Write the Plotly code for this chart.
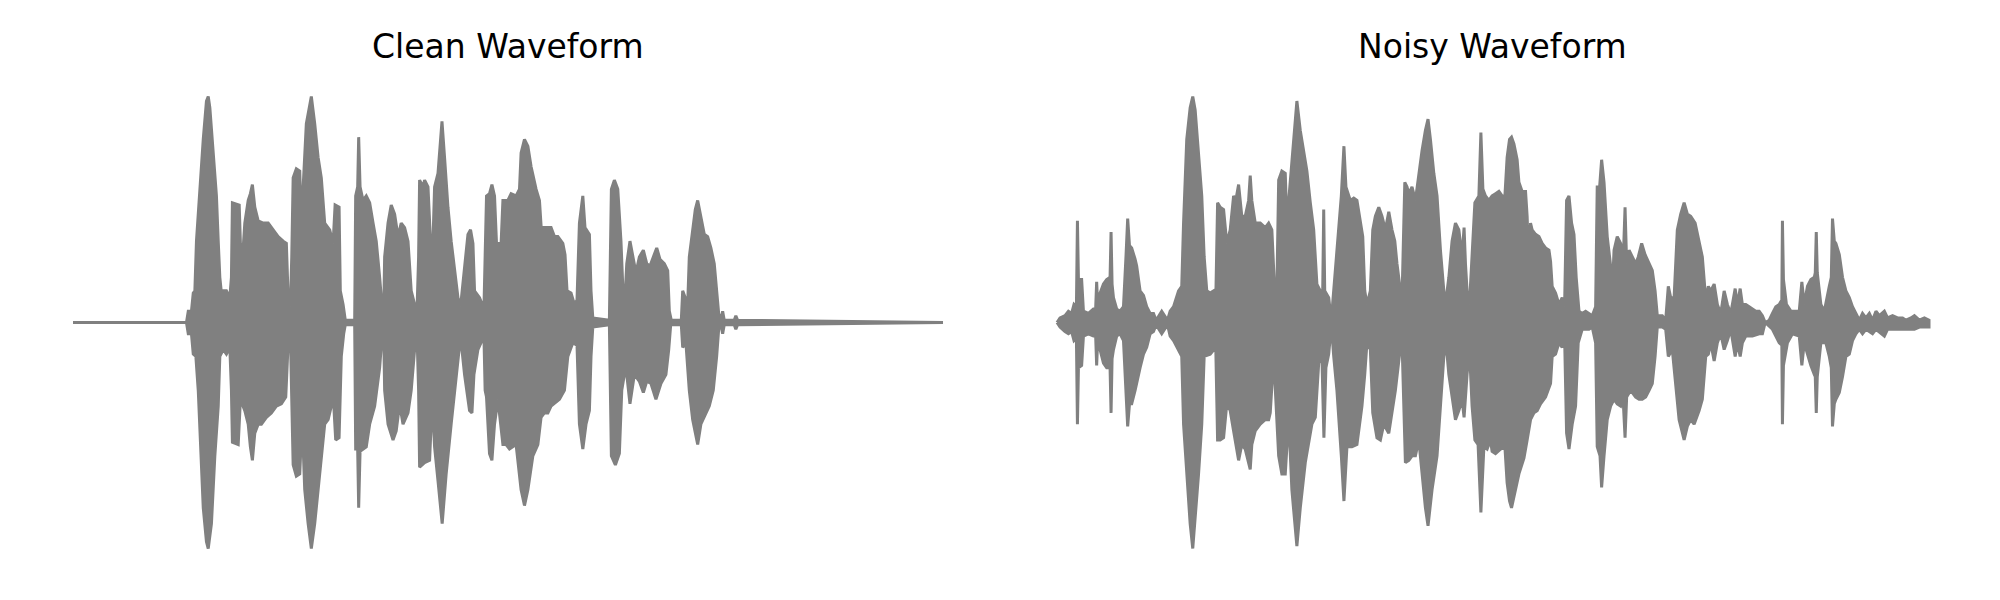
import plotly.graph_objects as go

# ---------------- data: waveform envelopes ----------------
# time in seconds, amplitude normalised to [-1, 1]
clean_upper_t = [0.0, 0.568, 0.577, 0.593, 0.602, 0.61, 0.618, 0.635, 0.652, 0.668, 0.677, 0.685, 0.702, 0.718, 0.727, 0.735, 0.743, 0.752, 0.768, 0.785,
                 0.793, 0.798, 0.832, 0.838, 0.852, 0.86, 0.877, 0.888, 0.898, 0.91, 0.927, 0.952, 0.977, 1.002, 1.027, 1.052, 1.068, 1.077, 1.088, 1.095,
                 1.102, 1.118, 1.135, 1.143, 1.152, 1.168, 1.193, 1.21, 1.227, 1.243, 1.26, 1.285, 1.302, 1.312, 1.332, 1.338, 1.352, 1.363, 1.41, 1.415,
                 1.425, 1.43, 1.437, 1.452, 1.468, 1.485, 1.502, 1.518, 1.535, 1.547, 1.555,
                 1.56, 1.577, 1.593, 1.61, 1.627, 1.643, 1.66, 1.677, 1.693, 1.71, 1.722, 1.73, 1.735, 1.752, 1.76, 1.777, 1.79, 1.802, 1.81, 1.827,
                 1.847, 1.86, 1.877, 1.893, 1.91, 1.927, 1.94, 1.96, 1.977, 1.99, 2.002, 2.01, 2.035, 2.057, 2.063, 2.07, 2.085, 2.097, 2.11, 2.12,
                 2.143, 2.152, 2.177, 2.193, 2.218, 2.235, 2.243, 2.26, 2.277, 2.293, 2.318, 2.335, 2.348, 2.357, 2.377, 2.393, 2.41, 2.427, 2.452, 2.463,
                 2.473, 2.493, 2.51, 2.523, 2.535, 2.552, 2.563,
                 2.585, 2.593, 2.602, 2.685, 2.69, 2.695, 2.71, 2.727, 2.743, 2.752, 2.765, 2.772, 2.788, 2.802, 2.818, 2.835, 2.855, 2.872, 2.888, 2.905,
                 2.922, 2.938, 2.96, 2.977, 2.985, 2.995, 3.045, 3.052, 3.063, 3.077, 3.085, 3.102, 3.115, 3.127, 3.143, 3.16, 3.177, 3.193, 3.21, 3.222,
                 3.232, 3.243, 3.252, 3.26, 3.31, 3.318, 3.327, 4.355]
clean_upper_a = [0.0, 0.0, 0.05, 0.05, 0.13, 0.14, 0.36, 0.59, 0.81, 0.98, 1.0, 0.95, 0.73, 0.56, 0.36, 0.2, 0.13, 0.14, 0.14, 0.11,
                 0.2, 0.53, 0.52, 0.35, 0.33, 0.44, 0.54, 0.57, 0.61, 0.51, 0.45, 0.44, 0.44, 0.41, 0.38, 0.36, 0.35, 0.11, 0.07, 0.29,
                 0.64, 0.68, 0.67, 0.44, 0.59, 0.88, 1.0, 0.88, 0.73, 0.64, 0.44, 0.41, 0.35, 0.52, 0.51, 0.14, 0.08, 0.01, 0.01, 0.56,
                 0.6, 0.82, 0.6, 0.54, 0.56, 0.53, 0.44, 0.36, 0.2, 0.07, 0.03,
                 0.29, 0.44, 0.52, 0.48, 0.38, 0.44, 0.42, 0.36, 0.14, 0.08, 0.05, 0.29, 0.63, 0.6, 0.63, 0.6, 0.35, 0.36, 0.6, 0.66,
                 0.89, 0.73, 0.51, 0.36, 0.23, 0.11, 0.07, 0.26, 0.39, 0.41, 0.35, 0.14, 0.11, 0.06, 0.3, 0.56, 0.57, 0.61, 0.56, 0.35,
                 0.35, 0.54, 0.54, 0.57, 0.56, 0.59, 0.75, 0.81, 0.78, 0.69, 0.59, 0.54, 0.36, 0.42, 0.42, 0.42, 0.38, 0.38, 0.35, 0.3,
                 0.14, 0.13, 0.08, 0.1, 0.44, 0.56, 0.42,
                 0.39, 0.14, 0.02, 0.01, 0.3, 0.59, 0.63, 0.59, 0.36, 0.16, 0.14, 0.26, 0.36, 0.29, 0.22, 0.29, 0.32, 0.26, 0.25, 0.29,
                 0.33, 0.28, 0.26, 0.23, 0.05, 0.01, 0.01, 0.14, 0.11, 0.08, 0.29, 0.41, 0.5, 0.54, 0.47, 0.39, 0.38, 0.33, 0.26, 0.14,
                 0.04, 0.01, 0.05, 0.01, 0.01, 0.03, 0.01, 0.0]

clean_lower_t = [0.0, 0.568, 0.577, 0.593, 0.602, 0.615, 0.627, 0.635, 0.652, 0.668, 0.677, 0.693, 0.71, 0.727, 0.735, 0.752, 0.768, 0.785, 0.793, 0.798,
                 0.827, 0.838, 0.86, 0.877, 0.888, 0.898, 0.91, 0.927, 0.943, 0.968, 0.993, 1.018, 1.043, 1.065, 1.077, 1.088, 1.095, 1.102, 1.118, 1.135,
                 1.147, 1.16, 1.177, 1.193, 1.21, 1.235, 1.26, 1.277, 1.293, 1.305, 1.315, 1.332, 1.343, 1.355, 1.363, 1.41, 1.415, 1.425, 1.43, 1.437,
                 1.452, 1.468, 1.485, 1.51, 1.535, 1.547, 1.555,
                 1.56, 1.577, 1.602, 1.618, 1.635, 1.652, 1.677, 1.693, 1.71, 1.722, 1.73, 1.735, 1.76, 1.785, 1.798, 1.81, 1.827, 1.848, 1.868, 1.893,
                 1.918, 1.94, 1.96, 1.985, 1.997, 2.007, 2.027, 2.057, 2.063, 2.07, 2.085, 2.097, 2.11, 2.127, 2.152, 2.168, 2.185, 2.218, 2.243, 2.26,
                 2.277, 2.302, 2.327, 2.343, 2.36, 2.377, 2.393, 2.41, 2.435, 2.46, 2.477, 2.502, 2.523, 2.535, 2.552, 2.568,
                 2.585, 2.593, 2.602, 2.685, 2.69, 2.695, 2.715, 2.735, 2.747, 2.76, 2.772, 2.788, 2.81, 2.835, 2.855, 2.872, 2.893, 2.918, 2.943, 2.968,
                 2.982, 2.992, 3.045, 3.052, 3.068, 3.085, 3.102, 3.115, 3.127, 3.143, 3.16, 3.185, 3.205, 3.222, 3.232, 3.243, 3.252, 3.26, 3.31, 3.318,
                 3.327, 4.355]
clean_lower_a = [0.0, 0.0, -0.05, -0.05, -0.14, -0.15, -0.3, -0.45, -0.82, -0.97, -1.0, -0.89, -0.59, -0.37, -0.15, -0.12, -0.14, -0.11, -0.3, -0.53,
                 -0.54, -0.34, -0.39, -0.45, -0.55, -0.61, -0.49, -0.45, -0.45, -0.42, -0.4, -0.37, -0.36, -0.33, -0.09, -0.05, -0.3, -0.63, -0.68, -0.67,
                 -0.43, -0.74, -0.89, -1.0, -0.89, -0.67, -0.45, -0.43, -0.37, -0.36, -0.52, -0.51, -0.15, -0.05, -0.01, -0.01, -0.56, -0.56, -0.82, -0.57,
                 -0.56, -0.55, -0.45, -0.37, -0.2, -0.06, -0.03,
                 -0.3, -0.45, -0.52, -0.48, -0.36, -0.45, -0.4, -0.3, -0.12, -0.05, -0.3, -0.64, -0.62, -0.61, -0.34, -0.55, -0.7, -0.89, -0.67, -0.45,
                 -0.23, -0.06, -0.23, -0.39, -0.4, -0.23, -0.12, -0.06, -0.3, -0.33, -0.58, -0.61, -0.45, -0.34, -0.54, -0.54, -0.56, -0.54, -0.74, -0.81,
                 -0.74, -0.59, -0.54, -0.42, -0.4, -0.4, -0.37, -0.36, -0.34, -0.3, -0.15, -0.09, -0.1, -0.45, -0.56, -0.45,
                 -0.39, -0.15, -0.02, -0.01, -0.3, -0.59, -0.63, -0.58, -0.3, -0.23, -0.23, -0.36, -0.23, -0.26, -0.31, -0.26, -0.27, -0.34, -0.27, -0.23,
                 -0.12, -0.01, -0.01, -0.11, -0.09, -0.3, -0.43, -0.49, -0.54, -0.45, -0.42, -0.37, -0.3, -0.15, -0.03, -0.01, -0.05, -0.01, -0.01, -0.03,
                 -0.01, 0.0]

noisy_upper_t = [0.0, 0.015, 0.04, 0.057, 0.073, 0.085, 0.097, 0.102, 0.107, 0.123, 0.132, 0.157, 0.182, 0.193, 0.198, 0.203, 0.215, 0.232, 0.248, 0.265,
                 0.27, 0.275, 0.282, 0.298, 0.315, 0.332, 0.345, 0.353, 0.362, 0.373, 0.39, 0.398, 0.415, 0.432, 0.448, 0.465, 0.482, 0.495, 0.523, 0.552,
                 0.565, 0.582, 0.607, 0.623, 0.632, 0.648, 0.665, 0.678, 0.69, 0.707, 0.723, 0.735, 0.748, 0.765, 0.782, 0.793, 0.802, 0.815, 0.832, 0.848,
                 0.865, 0.882, 0.893, 0.907, 0.923, 0.94, 0.957, 0.965, 0.973, 0.99, 1.015, 1.04, 1.057,
                 1.073, 1.087, 1.098, 1.107, 1.123, 1.14, 1.148, 1.165, 1.182, 1.198, 1.215, 1.232, 1.248, 1.265, 1.282, 1.298, 1.315, 1.327, 1.332, 1.337,
                 1.357, 1.37, 1.382, 1.398, 1.42, 1.433, 1.443, 1.465, 1.482, 1.498, 1.515, 1.527, 1.537, 1.548, 1.565, 1.577, 1.59, 1.607, 1.623, 1.64,
                 1.657, 1.673, 1.687, 1.698, 1.715, 1.723, 1.737, 1.748, 1.757, 1.773, 1.79, 1.807, 1.823, 1.84, 1.853, 1.865, 1.882, 1.898, 1.915, 1.932,
                 1.94, 1.957, 1.973, 1.99, 2.007, 2.023, 2.033, 2.04, 2.048, 2.06, 2.073, 2.087, 2.107, 2.117, 2.127, 2.14, 2.157,
                 2.173, 2.19, 2.207, 2.223, 2.237, 2.248, 2.26, 2.27, 2.282, 2.298, 2.307, 2.323, 2.34, 2.348, 2.357, 2.365, 2.373, 2.39, 2.407, 2.423,
                 2.44, 2.457, 2.465, 2.473, 2.49, 2.507, 2.523, 2.535, 2.545, 2.557, 2.57, 2.582, 2.593, 2.607, 2.623, 2.64, 2.657, 2.673, 2.69, 2.698,
                 2.71, 2.72, 2.732, 2.748, 2.765, 2.773, 2.782, 2.798, 2.815, 2.827, 2.837, 2.845, 2.857, 2.873, 2.89, 2.903, 2.92, 2.937, 2.957, 2.973,
                 2.987, 2.998, 3.023, 3.04, 3.053, 3.065, 3.082, 3.098, 3.115, 3.132, 3.148, 3.165, 3.187, 3.207, 3.223, 3.24, 3.253, 3.265,
                 3.282, 3.298, 3.315, 3.332, 3.348, 3.365, 3.387, 3.398, 3.412, 3.423, 3.44, 3.457, 3.473, 3.49, 3.507, 3.523, 3.537, 3.557, 3.573, 3.59,
                 3.607, 3.62, 3.623, 3.628, 3.643, 3.665, 3.69, 3.707, 3.72, 3.732, 3.748, 3.765, 3.782, 3.787, 3.792, 3.797, 3.815, 3.832, 3.857, 3.867,
                 3.873, 3.882, 3.89, 3.907, 3.923, 3.94, 3.957, 3.973, 3.99, 4.007, 4.023, 4.04, 4.057, 4.073, 4.09, 4.107, 4.132, 4.148, 4.173, 4.198,
                 4.223, 4.24, 4.265, 4.282, 4.307, 4.332, 4.355]
noisy_upper_a = [0.0, 0.02, 0.03, 0.05, 0.04, 0.08, 0.07, 0.45, 0.19, 0.19, 0.05, 0.04, 0.06, 0.06, 0.18, 0.08, 0.13, 0.17, 0.19, 0.2,
                 0.4, 0.17, 0.11, 0.06, 0.05, 0.07, 0.3, 0.46, 0.34, 0.33, 0.28, 0.25, 0.14, 0.12, 0.07, 0.04, 0.04, 0.01, 0.05, 0.01,
                 0.05, 0.07, 0.14, 0.16, 0.44, 0.81, 0.95, 1.0, 0.94, 0.73, 0.56, 0.29, 0.14, 0.13, 0.14, 0.1, 0.53, 0.51, 0.5, 0.35,
                 0.41, 0.56, 0.54, 0.61, 0.47, 0.47, 0.54, 0.65, 0.54, 0.44, 0.44, 0.42, 0.44,
                 0.41, 0.14, 0.14, 0.63, 0.67, 0.66, 0.44, 0.62, 0.81, 0.98, 0.85, 0.76, 0.67, 0.53, 0.41, 0.17, 0.14, 0.14, 0.5, 0.14,
                 0.11, 0.01, 0.14, 0.29, 0.56, 0.78, 0.6, 0.54, 0.55, 0.54, 0.44, 0.38, 0.14, 0.08, 0.14, 0.41, 0.47, 0.51, 0.47, 0.41,
                 0.49, 0.41, 0.36, 0.26, 0.14, 0.1, 0.62, 0.6, 0.57, 0.6, 0.54, 0.66, 0.76, 0.85, 0.9, 0.81, 0.66, 0.56, 0.32, 0.14,
                 0.08, 0.2, 0.36, 0.44, 0.41, 0.29, 0.42, 0.26, 0.14, 0.08, 0.29, 0.53, 0.56, 0.84, 0.59, 0.56, 0.54,
                 0.56, 0.57, 0.58, 0.56, 0.56, 0.73, 0.81, 0.82, 0.79, 0.72, 0.62, 0.58, 0.58, 0.47, 0.23, 0.44, 0.41, 0.39, 0.38, 0.35,
                 0.33, 0.32, 0.27, 0.16, 0.13, 0.08, 0.11, 0.07, 0.54, 0.56, 0.44, 0.39, 0.2, 0.05, 0.04, 0.05, 0.04, 0.03, 0.07, 0.6,
                 0.6, 0.72, 0.62, 0.38, 0.25, 0.13, 0.32, 0.38, 0.35, 0.25, 0.51, 0.26, 0.32, 0.29, 0.26, 0.29, 0.35, 0.3, 0.26, 0.23,
                 0.14, 0.03, 0.03, 0.01, 0.16, 0.11, 0.11, 0.41, 0.48, 0.53, 0.48, 0.47, 0.44, 0.36, 0.29, 0.1, 0.16, 0.14,
                 0.17, 0.08, 0.04, 0.14, 0.08, 0.04, 0.15, 0.08, 0.15, 0.08, 0.08, 0.07, 0.06, 0.05, 0.05, 0.03, 0.0, 0.01, 0.04, 0.07,
                 0.08, 0.1, 0.45, 0.19, 0.08, 0.05, 0.05, 0.05, 0.18, 0.08, 0.16, 0.19, 0.2, 0.22, 0.4, 0.22, 0.08, 0.05, 0.16, 0.2,
                 0.46, 0.36, 0.35, 0.3, 0.2, 0.14, 0.11, 0.07, 0.04, 0.01, 0.04, 0.02, 0.04, 0.01, 0.05, 0.03, 0.05, 0.02, 0.03, 0.02,
                 0.02, 0.01, 0.02, 0.03, 0.01, 0.02, 0.01]

noisy_lower_t = [0.0, 0.015, 0.04, 0.057, 0.073, 0.085, 0.097, 0.102, 0.107, 0.123, 0.132, 0.157, 0.182, 0.193, 0.198, 0.203, 0.215, 0.232, 0.248, 0.265,
                 0.27, 0.275, 0.282, 0.298, 0.315, 0.332, 0.345, 0.353, 0.362, 0.373, 0.39, 0.398, 0.415, 0.432, 0.448, 0.465, 0.482, 0.495, 0.523, 0.552,
                 0.565, 0.582, 0.607, 0.623, 0.632, 0.648, 0.665, 0.678, 0.69, 0.707, 0.723, 0.735, 0.765, 0.793, 0.802, 0.815, 0.832, 0.848, 0.865, 0.882,
                 0.907, 0.923, 0.94, 0.965, 0.973, 0.99, 1.015, 1.04, 1.057,
                 1.065, 1.082, 1.098, 1.107, 1.123, 1.14, 1.157, 1.173, 1.198, 1.215, 1.24, 1.273, 1.29, 1.307, 1.323, 1.333, 1.343, 1.357, 1.37, 1.382,
                 1.398, 1.42, 1.433, 1.448, 1.473, 1.498, 1.523, 1.537, 1.548, 1.565, 1.577, 1.598, 1.615, 1.632, 1.657, 1.673, 1.69, 1.715, 1.723, 1.74,
                 1.757, 1.773, 1.79, 1.807, 1.823, 1.84, 1.853, 1.873, 1.898, 1.915, 1.932, 1.943, 1.957, 1.973, 1.99, 2.007, 2.023, 2.033, 2.048, 2.06,
                 2.073, 2.087, 2.103, 2.117, 2.132, 2.148, 2.165,
                 2.173, 2.19, 2.215, 2.237, 2.248, 2.26, 2.27, 2.29, 2.307, 2.332, 2.348, 2.365, 2.382, 2.398, 2.415, 2.44, 2.465, 2.473, 2.49, 2.507,
                 2.523, 2.535, 2.545, 2.557, 2.573, 2.59, 2.603, 2.623, 2.657, 2.673, 2.69, 2.698, 2.712, 2.72, 2.732, 2.748, 2.765, 2.782, 2.798, 2.815,
                 2.827, 2.837, 2.845, 2.865, 2.89, 2.907, 2.923, 2.94, 2.957, 2.973, 2.987, 2.998, 3.023, 3.04, 3.053, 3.073, 3.09, 3.107, 3.132, 3.148,
                 3.165, 3.182, 3.207, 3.223, 3.24, 3.253, 3.265,
                 3.282, 3.298, 3.315, 3.332, 3.348, 3.365, 3.387, 3.398, 3.412, 3.423, 3.44, 3.473, 3.507, 3.523, 3.537, 3.573, 3.59, 3.607, 3.62, 3.623,
                 3.628, 3.648, 3.673, 3.707, 3.72, 3.732, 3.748, 3.765, 3.782, 3.787, 3.792, 3.797, 3.815, 3.84, 3.857, 3.867, 3.873, 3.882, 3.89, 3.907,
                 3.923, 3.94, 3.957, 3.973, 3.99, 4.007, 4.023, 4.04, 4.073, 4.09, 4.132, 4.148, 4.173, 4.198, 4.223, 4.24, 4.282, 4.307, 4.332, 4.355]
noisy_lower_a = [0.0, -0.02, -0.04, -0.05, -0.04, -0.08, -0.07, -0.45, -0.2, -0.19, -0.06, -0.05, -0.06, -0.06, -0.19, -0.08, -0.12, -0.18, -0.2, -0.2,
                 -0.4, -0.16, -0.12, -0.06, -0.05, -0.08, -0.3, -0.46, -0.36, -0.36, -0.3, -0.28, -0.2, -0.14, -0.11, -0.05, -0.04, -0.01, -0.05, -0.01,
                 -0.06, -0.08, -0.12, -0.15, -0.45, -0.67, -0.89, -1.0, -0.89, -0.67, -0.45, -0.15, -0.14, -0.11, -0.52, -0.52, -0.51, -0.36, -0.39, -0.48,
                 -0.61, -0.54, -0.56, -0.65, -0.54, -0.48, -0.45, -0.43, -0.43,
                 -0.4, -0.15, -0.45, -0.59, -0.67, -0.67, -0.42, -0.74, -0.99, -0.82, -0.62, -0.45, -0.42, -0.18, -0.15, -0.51, -0.2, -0.14, -0.01, -0.15,
                 -0.3, -0.59, -0.79, -0.55, -0.55, -0.54, -0.37, -0.23, -0.09, -0.12, -0.4, -0.51, -0.52, -0.45, -0.49, -0.39, -0.3, -0.11, -0.08, -0.62,
                 -0.61, -0.59, -0.59, -0.52, -0.67, -0.82, -0.9, -0.74, -0.59, -0.37, -0.15, -0.09, -0.23, -0.33, -0.43, -0.39, -0.34, -0.42, -0.23, -0.12,
                 -0.37, -0.52, -0.54, -0.84, -0.55, -0.56, -0.52,
                 -0.57, -0.58, -0.56, -0.55, -0.71, -0.79, -0.82, -0.74, -0.67, -0.6, -0.52, -0.43, -0.4, -0.39, -0.36, -0.33, -0.27, -0.15, -0.14, -0.09,
                 -0.11, -0.06, -0.49, -0.56, -0.45, -0.37, -0.09, -0.03, -0.03, -0.02, -0.09, -0.55, -0.59, -0.73, -0.59, -0.43, -0.37, -0.34, -0.36, -0.37,
                 -0.33, -0.51, -0.33, -0.3, -0.33, -0.34, -0.34, -0.33, -0.3, -0.27, -0.15, -0.02, -0.02, -0.03, -0.15, -0.12, -0.27, -0.43, -0.52, -0.46,
                 -0.43, -0.45, -0.39, -0.34, -0.15, -0.14, -0.09,
                 -0.17, -0.09, -0.05, -0.12, -0.08, -0.03, -0.15, -0.09, -0.15, -0.09, -0.06, -0.06, -0.05, -0.05, 0.0, -0.03, -0.06, -0.09, -0.1, -0.45,
                 -0.19, -0.09, -0.05, -0.06, -0.19, -0.09, -0.14, -0.19, -0.23, -0.24, -0.4, -0.24, -0.09, -0.09, -0.15, -0.2, -0.46, -0.36, -0.34, -0.31,
                 -0.24, -0.15, -0.14, -0.08, -0.05, -0.03, -0.05, -0.03, -0.05, -0.03, -0.06, -0.03, -0.03, -0.03, -0.03, -0.03, -0.03, -0.02, -0.02, -0.02]

titles = ["Clean Waveform", "Noisy Waveform"]
wave_color = "#808080"

panels = [
    (clean_upper_t, clean_upper_a, clean_lower_t, clean_lower_a),
    (noisy_upper_t, noisy_upper_a, noisy_lower_t, noisy_lower_a),
]

fig = go.Figure()
axis_ids = [("x", "y"), ("x2", "y2")]
for (ut, ua, lt, la), (xa, ya) in zip(panels, axis_ids):
    xs = list(ut) + list(reversed(lt))
    ys = list(ua) + list(reversed(la))
    fig.add_trace(go.Scatter(
        x=xs, y=ys, mode="lines", fill="toself",
        fillcolor=wave_color, line=dict(color=wave_color, width=3),
        xaxis=xa, yaxis=ya, showlegend=False, hoverinfo="skip",
    ))

x_range = [-0.01, 4.365]
y_range = [-1.1, 1.1]
# the page body adds an 8 px offset, compensated here
left_dom = [0.0315, 0.4685]
right_dom = [0.5235, 0.9615]
ydom = [0.0615, 0.8902]
hidden = dict(visible=False, showgrid=False, zeroline=False, fixedrange=True)
fig.update_layout(
    width=2000, height=600, autosize=False,
    margin=dict(l=0, r=0, t=0, b=0),
    paper_bgcolor="white", plot_bgcolor="white",
    xaxis=dict(domain=left_dom, range=x_range, anchor="y", **hidden),
    yaxis=dict(domain=ydom, range=y_range, anchor="x", **hidden),
    xaxis2=dict(domain=right_dom, range=x_range, anchor="y2", **hidden),
    yaxis2=dict(domain=ydom, range=y_range, anchor="x2", **hidden),
    font=dict(family="DejaVu Sans", color="black"),
)

for title, dom in zip(titles, [left_dom, right_dom]):
    fig.add_annotation(
        text=title, x=(dom[0] + dom[1]) / 2, y=(600 - 38) / 600,
        xref="paper", yref="paper", xanchor="center", yanchor="middle",
        showarrow=False, font=dict(family="DejaVu Sans", size=33, color="black"),
    )

fig.write_html("out.html", config={"displayModeBar": False})
